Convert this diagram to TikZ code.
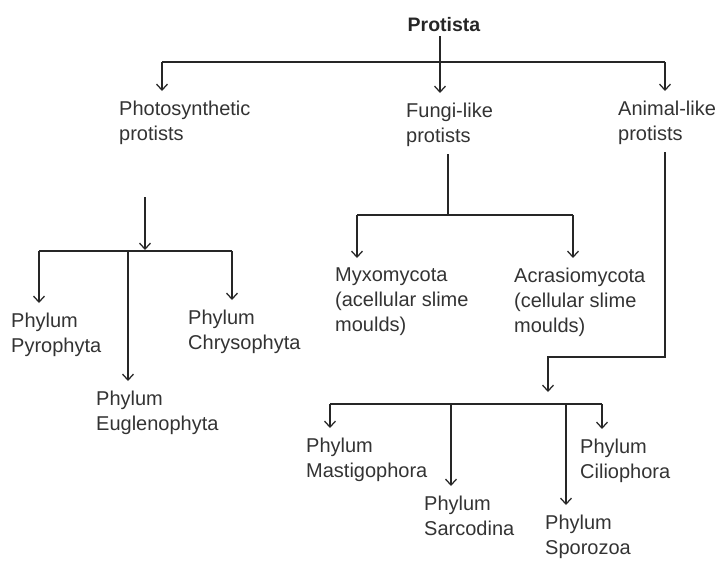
\documentclass[tikz,border=0pt]{standalone}
\usepackage{fontspec}
\setmainfont{Liberation Sans}
\usetikzlibrary{arrows.meta, positioning}

\begin{document}
\begin{tikzpicture}[
    x=1pt, y=-1pt,
    line/.style={draw=black!85, line width=1.25pt},
    arrow/.style={line, -{Straight Barb[length=6pt, width=11pt, line width=1.25pt]}},
    taxon/.style={align=left, anchor=north west, inner xsep=0pt, inner ysep=9.5pt,
        text=black!80, font=\fontsize{20}{25}\selectfont, execute at begin node=\strut},
    root/.style={font=\fontsize{19.5}{24}\selectfont\bfseries, text=black!85, inner sep=5pt}
]
\useasboundingbox (0,0) rectangle (718,560);

% Kingdom
\node[root, anchor=base] (protista) at (444,31) {Protista};

% Groups
\node[taxon] (photo) at (119,91) {Photosynthetic\\protists};
\node[taxon] (fungi) at (406,93) {Fungi-like\\protists};
\node[taxon] (animal) at (618,91) {Animal-like\\protists};

% Phyla of photosynthetic protists
\node[taxon] (pyro) at (11,303) {Phylum\\Pyrophyta};
\node[taxon] (eugleno) at (96,381) {Phylum\\Euglenophyta};
\node[taxon] (chryso) at (188,300) {Phylum\\Chrysophyta};

% Fungi-like protists
\node[taxon] (myxo) at (335,258) {Myxomycota\\(acellular slime\\moulds)};
\node[taxon] (acrasio) at (514,258) {Acrasiomycota\\(cellular slime\\moulds)};

% Phyla of animal-like protists
\node[taxon] (masti) at (306,428) {Phylum\\Mastigophora};
\node[taxon] (sarco) at (424,486) {Phylum\\Sarcodina};
\node[taxon] (sporo) at (545,505) {Phylum\\Sporozoa};
\node[taxon] (cilio) at (580,429) {Phylum\\Ciliophora};

% Junctions
\coordinate (bar-l) at (162,62);
\coordinate (bar-r) at (665,62);
\coordinate (photo-drop) at (145,197);
\coordinate (photo-tip) at (145,250);
\coordinate (pbar-l) at (39,251);
\coordinate (pbar-m) at (128,251);
\coordinate (pbar-r) at (232,251);
\coordinate (fbar-l) at (357,215);
\coordinate (fbar-m) at (448,215);
\coordinate (fbar-r) at (573,215);
\coordinate (abend) at (548,357);
\coordinate (atip) at (548,392);
\coordinate (abar-l) at (330,404);
\coordinate (abar-2) at (451,404);
\coordinate (abar-3) at (566,404);
\coordinate (abar-r) at (602,404);

% Protista to groups
\draw[line] (bar-l) -- (bar-r);
\draw[arrow] ([xshift=-4pt]protista.south) -- ([xshift=-4pt]protista.south |- fungi.north);
\draw[arrow] (bar-l) -- (bar-l |- photo.north);
\draw[arrow] (bar-r) -- (bar-r |- animal.north);

% Photosynthetic branch
\draw[arrow] (photo-drop) -- (photo-tip);
\draw[line] (pbar-l) -- (pbar-r);
\draw[arrow] (pbar-l) -- (pbar-l |- pyro.north);
\draw[arrow] (pbar-m) -- (pbar-m |- eugleno.north);
\draw[arrow] (pbar-r) -- (pbar-r |- chryso.north);

% Fungi-like branch
\draw[line] ([yshift=5pt]fungi.south -| fbar-m) -- (fbar-m);
\draw[line] (fbar-l) -- (fbar-r);
\draw[arrow] (fbar-l) -- (fbar-l |- myxo.north);
\draw[arrow] (fbar-r) -- (fbar-r |- acrasio.north);

% Animal-like branch
\draw[arrow] ([yshift=5pt]animal.south -| bar-r) |- (abend) -- (atip);
\draw[line] (abar-l) -- (abar-r);
\draw[arrow] (abar-l) -- (abar-l |- masti.north);
\draw[arrow] (abar-2) -- (abar-2 |- sarco.north);
\draw[arrow] (abar-3) -- (abar-3 |- sporo.north);
\draw[arrow] (abar-r) -- (abar-r |- cilio.north);

\end{tikzpicture}
\end{document}
